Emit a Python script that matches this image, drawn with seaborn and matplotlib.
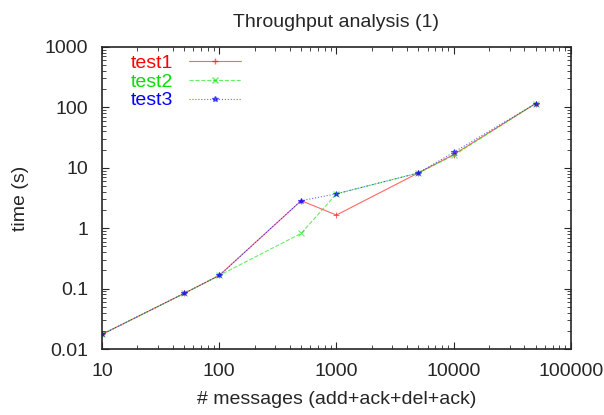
import numpy as np
import pandas as pd
import matplotlib
matplotlib.use("Agg")
import matplotlib.pyplot as plt
from matplotlib.lines import Line2D
import seaborn as sns

# message counts and measured times (s)
messages = [10, 50, 100, 500, 1000, 5000, 10000, 50000]
test1 = [0.0175, 0.083, 0.165, 2.85, 1.65, 8.2, 16.5, 115]
test2 = [0.0175, 0.083, 0.165, 0.82, 3.7, 8.2, 16.0, 115]
test3 = [0.0175, 0.083, 0.165, 2.85, 3.7, 8.2, 18.0, 115]

series = ["test1", "test2", "test3"]
colors = ["#ff0000", "#00e000", "#0000ff"]

df = pd.DataFrame({
    "messages": messages * 3,
    "time": test1 + test2 + test3,
    "test": sum([[s] * len(messages) for s in series], []),
})

sns.set_style("ticks")
plt.rcParams["font.family"] = ["Liberation Sans", "DejaVu Sans"]

fig = plt.figure(figsize=(6.04, 4.15), dpi=100)
ax = fig.add_axes([0.169, 0.159, 0.776, 0.728])

styles = {"test1": ("-", "+"), "test2": ("--", "x"), "test3": (":", "*")}
handles = []
for name, col in zip(series, colors):
    ls, mk = styles[name]
    sns.lineplot(data=df[df["test"] == name], x="messages", y="time", ax=ax,
                 color=col, linestyle=ls, marker=mk, markersize=4,
                 markeredgecolor=col, linewidth=0.8, alpha=0.6)
    handles.append(Line2D([], [], color=col, linestyle=ls, marker=mk, markersize=4,
                          markeredgecolor=col, linewidth=0.8, alpha=0.6, label=name))

ax.set_xscale("log")
ax.set_yscale("log")
ax.set_xlim(10, 100000)
ax.set_ylim(0.01, 1000)
ax.set_xticks([10, 100, 1000, 10000, 100000])
ax.set_xticklabels(["10", "100", "1000", "10000", "100000"])
ax.set_yticks([0.01, 0.1, 1, 10, 100, 1000])
ax.set_yticklabels(["0.01", "0.1", "1", "10", "100", "1000"])
ax.tick_params(which="both", direction="in", top=True, right=True, labelsize=14)
ax.tick_params(axis="x", pad=10)
ax.tick_params(axis="y", pad=10)
ax.tick_params(which="major", length=5)
ax.tick_params(which="minor", length=3)
for sp in ax.spines.values():
    sp.set_linewidth(1.2)

ax.set_xlabel("# messages (add+ack+del+ack)", fontsize=14, labelpad=8)
ax.set_ylabel("time (s)", fontsize=14, labelpad=11)
ax.set_title("Throughput analysis (1)", fontsize=14, pad=14)

leg = ax.legend(handles=handles, loc="upper left", frameon=False, markerfirst=False,
                fontsize=14, handlelength=2.7, handletextpad=0.8, borderaxespad=0.0,
                borderpad=0.4, labelspacing=0.05, bbox_to_anchor=(0.045, 1.0))
for txt, col in zip(leg.get_texts(), colors):
    txt.set_color(col)

fig.savefig("out.png", dpi=100)
